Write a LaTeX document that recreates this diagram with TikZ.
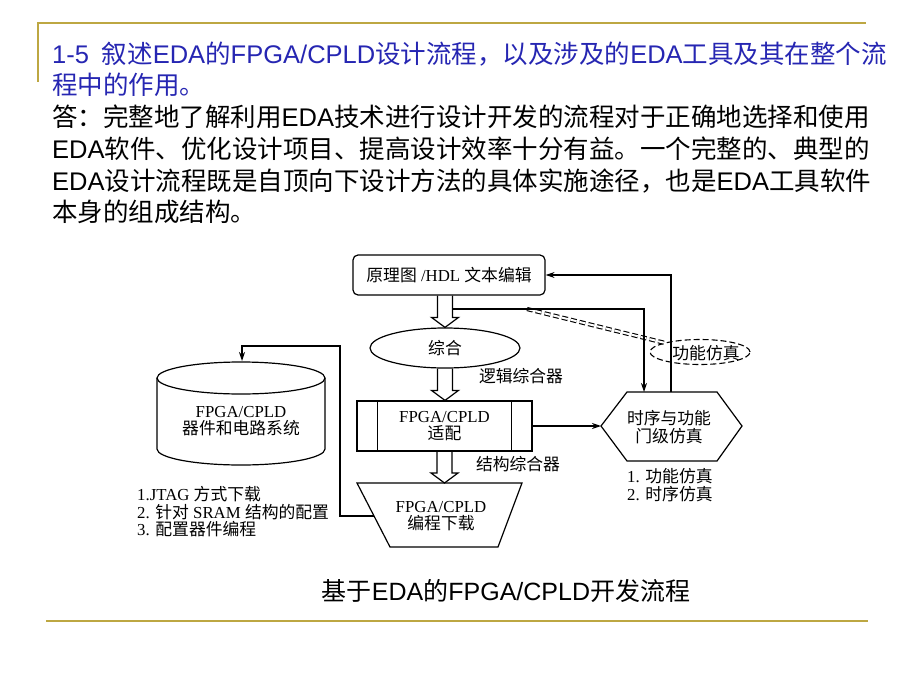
\documentclass[tikz,border=0pt]{standalone}
\usepackage{fontspec}
\setmainfont{Liberation Sans}
\newfontfamily\cjk{Noto Sans CJK SC}
\newfontfamily\serif{Liberation Serif}
\usetikzlibrary{shapes.geometric,arrows.meta,calc}
\definecolor{gold}{RGB}{189,167,66}
\definecolor{titleblue}{RGB}{38,38,178}
\newcommand\C[1]{{\cjk #1}}
\newcommand\harrow[2]{\draw[ln] let \p1=(#1), \p2=(#2) in
  (\x1-7.5pt,\y1) -- (\x1-7.5pt,\y2+10pt) -- (\x1-13.5pt,\y2+10pt) -- (\x1,\y2)
  -- (\x1+13.5pt,\y2+10pt) -- (\x1+7.5pt,\y2+10pt) -- (\x1+7.5pt,\y1);}
\begin{document}
\begin{tikzpicture}[x=1pt,y=-1pt,
  bodytext/.style={anchor=base west, inner sep=0, font=\fontsize{25.5}{30}\selectfont},
  ttl/.style={bodytext, text=titleblue},
  dlabel/.style={inner sep=0, font=\fontsize{16.8}{17.5}\selectfont\serif, align=center},
  ln/.style={line width=1.2pt},
  arr/.style={ln, -{Stealth[length=9pt,width=6pt]}},
  dsh/.style={line width=1.1pt, dash pattern=on 6pt off 3pt},
  goldline/.style={gold, line width=2pt}
]
\useasboundingbox (0,0) rectangle (920,690);
% gold frame lines
\draw[goldline] (38,82) -- (38,23) -- (866,23);
\draw[goldline] (46,621) -- (868,621);
% text
\node[ttl] (t1) at (52,64) {1-5\hspace{0.5em}\C{叙述}EDA\C{的}FPGA/CPLD\C{设计流程，以及涉及的}EDA\C{工具及其在整个流}};
\node[ttl] (t2) at (52,95) {\C{程中的作用。}};
\node[bodytext] (b1) at (52,126) {\C{答：完整地了解利用}EDA\C{技术进行设计开发的流程对于正确地选择和使用}};
\node[bodytext] (b2) at (52,158) {EDA\C{软件、优化设计项目、提高设计效率十分有益。一个完整的、典型的}};
\node[bodytext] (b3) at (52,190) {EDA\C{设计流程既是自顶向下设计方法的具体实施途径，也是}EDA\C{工具软件}};
\node[bodytext] (b4) at (52,221) {\C{本身的组成结构。}};
% diagram
\node[draw, ln, rounded corners=5pt, minimum width=192pt, minimum height=40pt, dlabel] (edit) at (449,275) {\C{原理图} /HDL \C{文本编辑}};
\node[draw, ln, ellipse, minimum width=150pt, minimum height=40pt, dlabel] (synth) at (445,348) {\C{综合}};
\node[draw, ln, minimum width=175pt, minimum height=50pt, dlabel] (fit) at (444.5,426) {FPGA/CPLD\\\C{适配}};
\draw[ln] ([xshift=21pt]fit.north west) -- ([xshift=21pt]fit.south west);
\draw[ln] ([xshift=-21pt]fit.north east) -- ([xshift=-21pt]fit.south east);
% trapezoid
\draw[ln] (357,483) -- (522,483) -- (498,547) -- (390,547) -- cycle;
\node[dlabel] (prog) at (441,516) {FPGA/CPLD\\\C{编程下载}};
\coordinate (progT) at (444.5,483);
\coordinate (progL) at (374,516);
% hexagon
\draw[ln] (601,426) -- (627,392) -- (717,392) -- (742,426) -- (717,461) -- (627,461) -- cycle;
\node[dlabel] (hex) at (669,427) {\C{时序与功能}\\\C{门级仿真}};
\coordinate (hexL) at (601,426);
\coordinate (hexT1) at (644,392);
\coordinate (hexT2) at (671,392);
% cylinder
\draw[ln] (241,378) ellipse [x radius=84pt, y radius=16pt];
\draw[ln] (157,378) -- (157,449) arc[start angle=180, end angle=360, x radius=84pt, y radius=16pt] -- (325,378);
\node[dlabel] (dev) at (241,421) {FPGA/CPLD\\\C{器件和电路系统}};
\coordinate (cylT) at (242,361);
% labels
\node[dlabel] (logic) at (521,376) {\C{逻辑综合器}};
\node[dlabel] (struct) at (518,464) {\C{结构综合器}};
\node[dlabel, anchor=west, align=left] (simlist) at (627,485) {1. \C{功能仿真}\\2. \C{时序仿真}};
\node[dlabel, anchor=west, align=left] (dl) at (137,512) {1.JTAG \C{方式下载}\\2. \C{针对} SRAM \C{结构的配置}\\3. \C{配置器件编程}};
% dashed callout
\node[draw, dsh, ellipse, minimum width=100pt, minimum height=25pt, inner sep=0] (fsimE) at (700,352) {};
\node[dlabel] (fsim) at (706,353) {\C{功能仿真}};
\coordinate (dstart) at (527,309);
\draw[dsh, double, double distance=2pt] (dstart) -- (fsimE.north west);
% hollow arrows
\harrow{edit.south -| synth.north}{synth.north}
\harrow{synth.south}{fit.north}
\harrow{fit.south}{progT}
% connectors
\coordinate (tap) at (452.5,309);
\coordinate (turn) at (340,346);
\draw[arr] (tap) -| (hexT1);
\draw[arr] (hexT2) |- (edit.east);
\draw[arr] (fit.east) -- (hexL);
\draw[arr] (progL) -| (turn) -| (cylT);
% caption
\node[anchor=base, inner sep=0, font=\fontsize{25}{30}\selectfont] (cap) at (506,600) {\C{基于}EDA\C{的}FPGA/CPLD\C{开发流程}};
\end{tikzpicture}
\end{document}
